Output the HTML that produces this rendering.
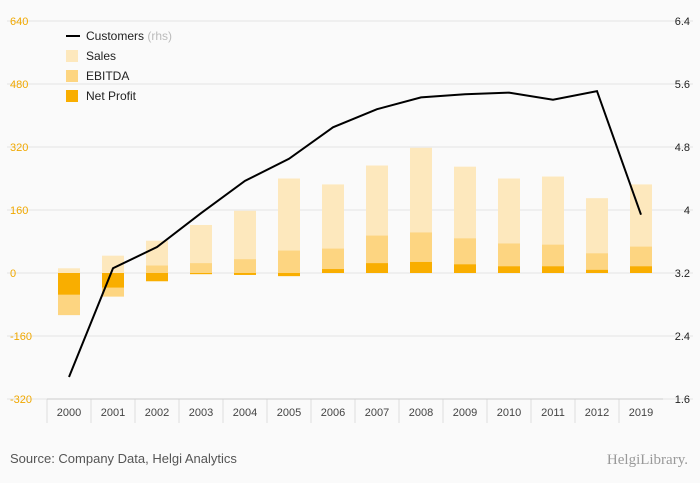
<!DOCTYPE html>
<html><head><meta charset="utf-8"><style>
body{margin:0;background:#fafafa;font-family:"Liberation Sans",sans-serif;}
svg{display:block}
</style></head><body>
<svg id="chart" width="700" height="483">
<rect width="700" height="483" fill="#fafafa"/>
<g id="grid"></g><g id="bars"></g><g id="line"></g><g id="axes"></g>
<g font-size="12" fill="#222">
<line x1="66" y1="36" x2="80" y2="36" stroke="#000" stroke-width="2"/>
<text x="86" y="40">Customers <tspan fill="#bbb">(rhs)</tspan></text>
<rect x="66" y="50" width="12" height="12" fill="#fde8bd"/>
<text x="86" y="60">Sales</text>
<rect x="66" y="70" width="12" height="12" fill="#fdd581"/>
<text x="86" y="80">EBITDA</text>
<rect x="66" y="90" width="12" height="12" fill="#f9ae00"/>
<text x="86" y="100">Net Profit</text>
</g>
<text x="10" y="463" font-size="13" fill="#555">Source: Company Data, Helgi Analytics</text>
<text x="688" y="464" font-size="15" fill="#999" text-anchor="end" font-family="Liberation Serif, serif">HelgiLibrary.</text>
</svg>
<script>
const categories=["2000","2001","2002","2003","2004","2005","2006","2007","2008","2009","2010","2011","2012","2019"];
const sales=[12,44,82,122,158,240,225,273,318,270,240,245,190,225];
const ebitda=[-107,-60,19,25,35,57,62,95,103,88,75,72,50,67];
const netProfit=[-55,-37,-21,-3,-5,-8,10,25,28,22,17,17,8,17];
const customers=[1.88,3.26,3.53,3.96,4.37,4.65,5.05,5.28,5.43,5.47,5.49,5.40,5.51,3.94];
const leftTicks=[-320,-160,0,160,320,480,640];
const rightTicks=[1.6,2.4,3.2,4,4.8,5.6,6.4];
const NS="http://www.w3.org/2000/svg";
const top_=21,bot=399,x0=47,x1=663;
const yL=v=>top_+(640-v)/960*(bot-top_);
const yR=v=>top_+(6.4-v)/4.8*(bot-top_);
const step=(x1-x0)/categories.length;
const xC=i=>x0+step*(i+0.5);
function mk(tag,attrs,parent){const e=document.createElementNS(NS,tag);for(const k in attrs)e.setAttribute(k,attrs[k]);document.getElementById(parent).appendChild(e);return e;}
leftTicks.forEach((t,i)=>{
 const g=mk('line',{x1:x0-40,x2:x1+30,y1:yL(t),y2:yL(t),stroke:'#e4e4e4'},'grid');
 
 
 const l=mk('text',{x:10,y:yL(t)+4,'font-size':11,fill:'#f0a800'},'axes');l.textContent=t;
 
 
});
rightTicks.forEach(t=>{
 const l=mk('text',{x:690,y:yR(t)+4,'font-size':11,fill:'#222','text-anchor':'end'},'axes');l.textContent=t;
 
 
});
const bw=22;
function bar(v,color,name,i){const y0=yL(0),y=yL(v);const r=mk('rect',{x:xC(i)-bw/2,y:Math.min(y0,y),width:bw,height:Math.abs(y-y0),fill:color},'bars');
 
 }
categories.forEach((c,i)=>{
 bar(sales[i],'#fde8bd','bar-sales',i);
 bar(ebitda[i],'#fdd581','bar-ebitda',i);
 bar(netProfit[i],'#f9ae00','bar-net-profit',i);
 const t=mk('text',{x:xC(i),y:416,'font-size':11,fill:'#444','text-anchor':'middle'},'axes');t.textContent=c;
 
 
 const s=mk('line',{x1:x0+step*i,x2:x0+step*i,y1:bot,y2:bot+24,stroke:'#ddd'},'axes');
 
 
});
const ax=mk('line',{x1:x0,x2:x1,y1:bot,y2:bot,stroke:'#ccc'},'axes');


const p=mk('polyline',{points:customers.map((v,i)=>xC(i)+','+yR(v)).join(' '),fill:'none',stroke:'#000','stroke-width':2},'line');


</script>
</body></html>
